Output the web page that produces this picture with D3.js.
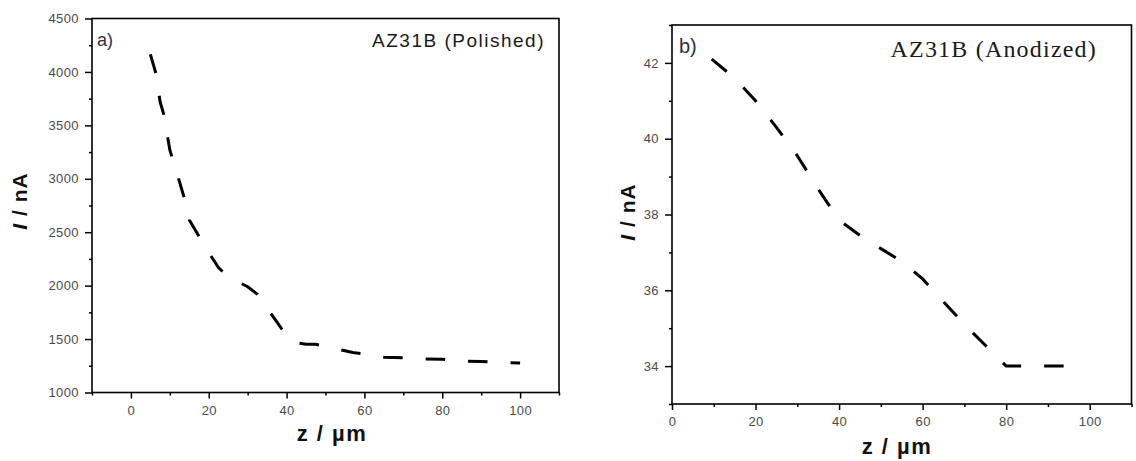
<!DOCTYPE html>
<html>
<head>
<meta charset="utf-8">
<script src="https://cdnjs.cloudflare.com/ajax/libs/d3/7.8.5/d3.min.js"></script>
<style>
body { margin: 0; background: #fff; }
.tick text { font-family: "Liberation Sans", Arial, sans-serif; font-size: 13px; fill: #4a4a4a; letter-spacing: 0.4px; }
</style>
</head>
<body>
<div id="chart"></div>
<script>

/* Data */

// a) AZ31B (Polished)
var z_polished = [5, 6.4, 7.5, 8.4, 10, 12.5, 13.7, 15, 17.5, 20, 22.5, 25, 27.5, 30, 32.5,
                  35, 37.5, 40, 42.5, 45, 47.5, 50, 55, 57, 60, 65, 70, 75, 80, 85, 90, 95, 100];
var i_polished = [4165, 3990, 3720, 3607, 3270, 2970, 2822, 2615, 2460, 2310, 2170, 2080, 2035, 1990, 1920,
                  1790, 1660, 1530, 1465, 1452, 1452, 1430, 1390, 1375, 1360, 1330, 1326, 1315, 1312, 1295, 1290, 1282, 1275];

// b) AZ31B (Anodized)
var z_anodized = [9.5, 15, 20, 25, 30, 35, 40, 45, 50, 55, 60, 65, 70, 75, 80, 85, 90, 95];
var i_anodized = [42.1, 41.6, 41.0, 40.3, 39.55, 38.67, 37.85, 37.45, 37.1, 36.76, 36.3, 35.7, 35.1, 34.55, 34.0, 34.0, 34.0, 34.0];

// ticks
var x_ticks_a = [0, 20, 40, 60, 80, 100];
var x_minor_a = [-10, 10, 30, 50, 70, 90, 110];
var y_ticks_a = [1000, 1500, 2000, 2500, 3000, 3500, 4000, 4500];
var y_minor_a = [1250, 1750, 2250, 2750, 3250, 3750, 4250];

var x_ticks_b = [0, 20, 40, 60, 80, 100];
var x_minor_b = [10, 30, 50, 70, 90, 110];
var y_ticks_b = [34, 36, 38, 40, 42];
var y_minor_b = [33, 35, 37, 39, 41, 43];

var panels = [
    {
        z: z_polished, i: i_polished,
        xdom: [-10, 110], ydom: [1000, 4500],
        xt: x_ticks_a, xm: x_minor_a, yt: y_ticks_a, ym: y_minor_a,
        left: 92, right: 559, top: 18.5, bottom: 392.5,
        tag: "a)", tag_x: 97, tag_y: 46, tag_size: 18,
        title: "AZ31B (Polished)", title_x: 545, title_y: 47,
        title_font: '"Liberation Sans", Arial, sans-serif', title_size: 19, title_ls: 1.5,
        xlab_x: 332, xlab_y: 441, ylab_x: 27, ylab_y: 201
    },
    {
        z: z_anodized, i: i_anodized,
        xdom: [0, 110], ydom: [33, 43],
        xt: x_ticks_b, xm: x_minor_b, yt: y_ticks_b, ym: y_minor_b,
        left: 672, right: 1131.5, top: 25, bottom: 404,
        tag: "b)", tag_x: 679, tag_y: 53, tag_size: 20,
        title: "AZ31B (Anodized)", title_x: 1097, title_y: 57,
        title_font: '"Liberation Serif", "Times New Roman", serif', title_size: 24, title_ls: 1.2,
        xlab_x: 897, xlab_y: 454, ylab_x: 635, ylab_y: 212
    }
];

/* Renderer */

var svg = d3.select("#chart").append("svg")
    .attr("width", 1136)
    .attr("height", 461)
    .style("background", "#fff");

var draw_panel = function (p) {
    var x = d3.scaleLinear().domain(p.xdom).range([p.left, p.right]);
    var y = d3.scaleLinear().domain(p.ydom).range([p.bottom, p.top]);
    var fmt = d3.format("d");

    var g = svg.append("g");

    // minor ticks first, majors on top
    g.append("g")
        .attr("transform", "translate(0," + p.bottom + ")")
        .call(d3.axisBottom(x).tickValues(p.xm).tickSize(3).tickFormat(""))
        .call(function (s) { s.select(".domain").remove(); });
    g.append("g")
        .attr("transform", "translate(" + p.left + ",0)")
        .call(d3.axisLeft(y).tickValues(p.ym).tickSize(3).tickFormat(""))
        .call(function (s) { s.select(".domain").remove(); });

    g.append("g")
        .attr("transform", "translate(0," + p.bottom + ")")
        .call(d3.axisBottom(x).tickValues(p.xt).tickSize(6).tickSizeOuter(0).tickPadding(7).tickFormat(fmt))
        .call(function (s) { s.select(".domain").remove(); });
    g.append("g")
        .attr("transform", "translate(" + p.left + ",0)")
        .call(d3.axisLeft(y).tickValues(p.yt).tickSize(7).tickSizeOuter(0).tickPadding(6).tickFormat(fmt))
        .call(function (s) { s.select(".domain").remove(); });

    g.selectAll(".tick line")
        .attr("stroke", "#000")
        .attr("stroke-width", 1.5);

    // frame
    g.append("rect")
        .attr("x", p.left)
        .attr("y", p.top)
        .attr("width", p.right - p.left)
        .attr("height", p.bottom - p.top)
        .attr("fill", "none")
        .attr("stroke", "#000")
        .attr("stroke-width", 1.6);

    // the dashed curve
    var line = d3.line()
        .x(function (d) { return x(d[0]); })
        .y(function (d) { return y(d[1]); });

    g.append("path")
        .datum(d3.zip(p.z, p.i))
        .attr("d", line)
        .attr("fill", "none")
        .attr("stroke", "#000")
        .attr("stroke-width", 3)
        .attr("stroke-dasharray", "19.5,23");

    // labels
    g.append("text")
        .attr("x", p.tag_x)
        .attr("y", p.tag_y)
        .style("font-family", '"Liberation Sans", Arial, sans-serif')
        .style("font-size", p.tag_size + "px")
        .attr("fill", "#2c3145")
        .text(p.tag);

    g.append("text")
        .attr("x", p.title_x)
        .attr("y", p.title_y)
        .attr("text-anchor", "end")
        .style("font-family", p.title_font)
        .style("font-size", p.title_size + "px")
        .style("letter-spacing", p.title_ls + "px")
        .attr("fill", "#1a1a1a")
        .text(p.title);

    g.append("text")
        .attr("x", p.xlab_x)
        .attr("y", p.xlab_y)
        .attr("text-anchor", "middle")
        .style("font-family", '"Liberation Sans", Arial, sans-serif')
        .style("font-size", "22px")
        .style("font-weight", "bold")
        .style("letter-spacing", "1.5px")
        .attr("fill", "#111")
        .text("z / \u00b5m");

    var yl = g.append("text")
        .attr("transform", "translate(" + p.ylab_x + "," + p.ylab_y + ") rotate(-90)")
        .attr("text-anchor", "middle")
        .style("font-family", '"Liberation Sans", Arial, sans-serif')
        .style("font-size", "21px")
        .style("font-weight", "bold")
        .style("letter-spacing", "1px")
        .attr("fill", "#111");
    yl.append("tspan").style("font-style", "italic").text("I");
    yl.append("tspan").text(" / nA");
};

panels.forEach(draw_panel);

</script>
</body>
</html>
